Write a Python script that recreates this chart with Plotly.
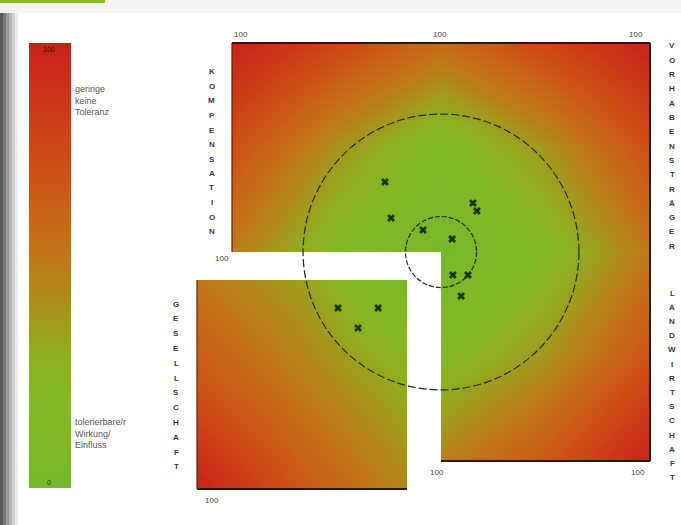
import plotly.graph_objects as go

# ---------------- data ----------------
# positions of the stakeholders / projects (percent of the 0..100 axes, centre = 0)
marker_x = [-26.8, -23.9, -8.6, 5.3, 15.3, 17.2, 5.7, 12.9, 9.6, -49.3, -30.1, -39.7]
marker_y = [33.5, 16.3, 10.5, 6.2, 23.4, 19.6, -11.0, -11.0, -21.1, -26.8, -26.8, -36.4]

# tolerance surface, upper half (KOMPENSATION | VORHABENSTRÄGER)
top_x = [-100, -50, 0, 50, 100]
top_y = [0, 50, 100]
top_z = [[50, 20, 0, 20, 52],
         [72, 40, 16, 40, 72],
         [100, 78, 58, 78, 100]]

# lower right quadrant (LANDWIRTSCHAFT)
br_x = [0, 50, 100]
br_y = [-100, -50, 0]
br_z = [[48, 68, 100],
        [20, 40, 70],
        [0, 20, 52]]

# detached lower left quadrant (GESELLSCHAFT)
ll_x = [0, 50, 100]
ll_y = [0, 50, 100]
ll_z = [[100, 68, 45],
        [70, 50, 30],
        [52, 36, 5]]

scale_vals = [0, 25, 50, 75, 100]
scale_top_label = "100"
scale_bottom_label = "0"
scale_text_high = "geringe<br>keine<br>Toleranz"
scale_text_low = "tolerierbare/r<br>Wirkung/<br>Einfluss"

outer_radius = 66
inner_radius = 17

quadrant_names = ["KOMPENSATION", "VORHABENSTRÄGER", "LANDWIRTSCHAFT", "GESELLSCHAFT"]
axis_max_label = "100"

# ---------------- layout helpers ----------------
W, H = 681, 525
S = 2.09           # pixels per unit on the overlay axes
CX, CY = 441, 252  # pixel position of the centre

def px(x):
    return x / W

def py(y):
    return 1 - y / H

colorscale = [
    [0.00, '#76b82a'],
    [0.20, '#82b826'],
    [0.30, '#8fae20'],
    [0.38, '#a29a1e'],
    [0.46, '#b5841a'],
    [0.56, '#c66e16'],
    [0.75, '#cf4a16'],
    [1.00, '#c82219'],
]

fig = go.Figure()

common = dict(colorscale=colorscale, zmin=0, zmax=100, zsmooth='best',
              showscale=False, hoverinfo='skip')

fig.add_trace(go.Heatmap(x=top_x, y=top_y, z=top_z, xaxis='x', yaxis='y', **common))
fig.add_trace(go.Heatmap(x=br_x, y=br_y, z=br_z, xaxis='x2', yaxis='y2', **common))
fig.add_trace(go.Heatmap(x=ll_x, y=ll_y, z=ll_z, xaxis='x3', yaxis='y3', **common))
fig.add_trace(go.Heatmap(x=[0, 1], y=scale_vals, z=[[v, v] for v in scale_vals],
                         xaxis='x4', yaxis='y4', **common))

fig.add_trace(go.Scatter(x=marker_x, y=marker_y, mode='markers', xaxis='x5', yaxis='y5',
                         marker=dict(symbol='x', size=7, color='#1b3512',
                                     line=dict(width=0)),
                         hoverinfo='skip', showlegend=False))

def ax(domain, rng):
    return dict(domain=domain, range=rng, visible=False, fixedrange=True)

layout = dict(
    width=W, height=H, margin=dict(l=0, r=0, t=0, b=0),
    paper_bgcolor='white', plot_bgcolor='rgba(0,0,0,0)', showlegend=False,
    xaxis=ax([px(232), px(650)], [-100, 100]),
    yaxis=ax([py(CY), py(43)], [0, 100]),
    xaxis2=ax([px(CX), px(650)], [0, 100]),
    yaxis2=ax([py(461), py(CY)], [-100, 0]),
    xaxis3=ax([px(197), px(407)], [0, 100]),
    yaxis3=ax([py(489), py(280)], [0, 100]),
    xaxis4=ax([px(29), px(71)], [0, 1]),
    yaxis4=ax([py(488), py(43)], [0, 100]),
    xaxis5=ax([0, 1], [(0 - CX) / S, (W - CX) / S]),
    yaxis5=ax([0, 1], [(CY - H) / S, CY / S]),
)
fig.update_layout(**layout)

shapes = []
# top strip and green accent
shapes.append(dict(type='rect', xref='paper', yref='paper', x0=0, x1=1, y0=py(13), y1=1,
                   fillcolor='#f3f3f3', line=dict(width=0), layer='below'))
shapes.append(dict(type='rect', xref='paper', yref='paper', x0=0, x1=px(105), y0=py(3), y1=1,
                   fillcolor='#8cbd24', line=dict(width=0), layer='below'))
# left shadow
shade = ['#5a5a5a', '#7a7a7a', '#999999', '#b8b8b8', '#d4d4d4', '#ebebeb']
for i, c in enumerate(shade):
    shapes.append(dict(type='rect', xref='paper', yref='paper', x0=px(i * 3), x1=px(i * 3 + 3),
                       y0=0, y1=py(13), fillcolor=c, line=dict(width=0), layer='below'))

edge = dict(color='#2b1a0c', width=2)
def seg(x0, y0, x1, y1, line=edge):
    shapes.append(dict(type='line', xref='x5', yref='y5', x0=x0, y0=y0, x1=x1, y1=y1,
                       line=line, layer='above'))

seg(-100, 100, 100, 100)
seg(100, 100, 100, -100)
seg(0, -100, 100, -100)
seg(-100, 0, -100, 100, dict(color='#6a1a10', width=1.2))
# detached quadrant edges
x_ll0, x_ll1 = (197 - CX) / S, (407 - CX) / S
y_ll0 = (CY - 489) / S
y_ll1 = (CY - 280) / S
seg(x_ll0, y_ll0, x_ll1, y_ll0)
seg(x_ll0, y_ll0, x_ll0, y_ll1, dict(color='#5a2a10', width=1.2))

for r, d in [(outer_radius, '8px,3px'), (inner_radius, '5px,2px')]:
    shapes.append(dict(type='circle', xref='x5', yref='y5', x0=-r, x1=r, y0=-r, y1=r,
                       line=dict(color='#1f2a15', width=1.2, dash=d), layer='above'))

fig.update_layout(shapes=shapes)

ann = []
font_lbl = dict(family='Liberation Sans, Arial, sans-serif', size=8, color='#444444')

def text(x, y, t, xanchor='center', yanchor='middle', font=font_lbl, align='left'):
    ann.append(dict(x=px(x), y=py(y), xref='paper', yref='paper', text=t, showarrow=False,
                    xanchor=xanchor, yanchor=yanchor, font=font, align=align))

# "100" axis ends
for (x, y) in [(241, 34), (440, 34), (636, 34), (222, 258), (437, 472), (638, 472), (212, 500)]:
    text(x, y, axis_max_label)

# scale labels
text(49, 49, scale_top_label, font=dict(family='Liberation Sans, Arial', size=7, color='#3a1008'))
text(49, 482, scale_bottom_label, font=dict(family='Liberation Sans, Arial', size=7, color='#1f3510'))
font_small = dict(family='Liberation Sans, Arial, sans-serif', size=9, color='#555555')
text(73, 101, scale_text_high, xanchor='left', font=font_small)
text(73, 433, scale_text_low, xanchor='left', font=font_small)

# stacked vertical quadrant names
font_v = dict(family='Liberation Sans, Arial, sans-serif', size=8, color='#3a3a3a')
def vertical(name, x, y0, step):
    for i, ch in enumerate(name):
        text(x, y0 + i * step, '<b>' + ch + '</b>', font=font_v)

vertical(quadrant_names[0], 212, 72, 14.5)
vertical(quadrant_names[1], 672, 46, 14.3)
vertical(quadrant_names[2], 672, 293, 14.2)
vertical(quadrant_names[3], 176, 304, 14.8)

fig.update_layout(annotations=ann)
fig.write_html("out.html", config={'displayModeBar': False, 'staticPlot': True},
               post_script="document.body.style.margin='0px';")
